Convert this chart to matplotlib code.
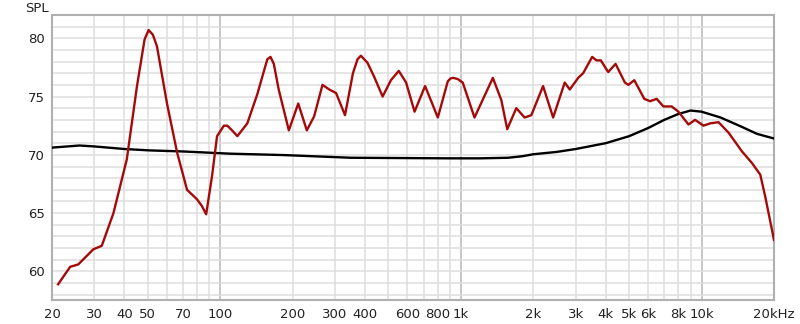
import matplotlib as mpl
import matplotlib.pyplot as plt
import numpy as np

mpl.rcParams['font.family'] = 'DejaVu Sans'
mpl.rcParams['text.color'] = '#222222'

# Frequency response (red)
red_freq = [21.2, 23.8, 25.7, 29.7, 32.2, 36.0, 40.9, 45.1, 48.5, 50.4, 52.5, 54.6,
            60.1, 66.2, 72.8, 80.0, 84.0, 87.4, 92.5, 97.0, 103.6, 107, 112, 117.8, 129.6,
            142.6, 152, 157, 161.8, 167, 175, 192.8, 211, 229, 245.6, 266, 284, 303, 330, 356,
            372, 384, 409, 436, 473, 512, 552, 592, 642, 710, 802, 882, 905, 930, 970, 1018, 1139,
            1358, 1472, 1558, 1699, 1840, 1962, 2195, 2417, 2701, 2834, 3072, 3221,
            3512, 3660, 3815, 4094, 4393, 4803, 4961, 5254, 5783, 6105, 6511, 6941,
            7516, 8018, 8823, 9401, 10186, 10854, 11765, 12949, 14714, 16195, 17538,
            18400, 20000]
red_spl = [58.9, 60.4, 60.6, 61.9, 62.2, 65.0, 69.6, 75.9, 79.9, 80.7, 80.3, 79.3,
           74.4, 70.2, 67.0, 66.2, 65.6, 64.9, 68.2, 71.6, 72.5, 72.5, 72.1, 71.6, 72.7,
           75.2, 77.2, 78.2, 78.4, 77.8, 75.6, 72.1, 74.4, 72.1, 73.3, 76.0, 75.6, 75.3, 73.4, 77.0,
           78.2, 78.5, 77.9, 76.7, 75.0, 76.4, 77.2, 76.2, 73.7, 75.9, 73.2, 76.3, 76.55, 76.6, 76.5,
           76.2, 73.2,
           76.6, 74.7, 72.2, 74.0, 73.2, 73.4, 75.9, 73.2, 76.2, 75.6, 76.6, 77.0,
           78.4, 78.1, 78.1, 77.1, 77.8, 76.2, 76.0, 76.4, 74.8, 74.6, 74.8, 74.15,
           74.15, 73.7, 72.6, 73.0, 72.5, 72.7, 72.8, 71.9, 70.3, 69.3, 68.3,
           66.4, 62.7]

# Target / reference curve (black)
black_freq = [20, 26, 30, 40, 51, 70, 110, 184, 349, 900, 1200, 1570, 1800, 2000, 2500,
              3000, 4000, 5000, 6000, 7000, 8000, 9000, 10000, 12000, 14700, 17000, 20000]
black_spl = [70.62, 70.8, 70.72, 70.5, 70.38, 70.29, 70.1, 69.98, 69.75, 69.7, 69.7,
             69.75, 69.88, 70.05, 70.25, 70.5, 71.0, 71.6, 72.3, 73.0, 73.5, 73.8, 73.7,
             73.2, 72.4, 71.8, 71.4]

x_ticks = [20, 30, 40, 50, 70, 100, 200, 300, 400, 600, 800, 1000, 2000, 3000,
           4000, 5000, 6000, 8000, 10000, 20000]
x_labels = ['20', '30', '40', '50', '70', '100', '200', '300', '400', '600', '800',
            '1k', '2k', '3k', '4k', '5k', '6k', '8k', '10k', '20kHz']
y_ticks = [60, 65, 70, 75, 80]

fig = plt.figure(figsize=(8, 3.24), dpi=100)
ax = fig.add_axes([0.065, 0.074, 0.9025, 0.88])
ax.set_xscale('log')
ax.set_xlim(20, 20000)
ax.set_ylim(57.55, 82.0)

# Grid: light lines every 1-2-...-9 and every dB, darker decade lines
for d in [10, 100, 1000, 10000]:
    for m in range(1, 10):
        f = d * m
        if 20 <= f <= 20000:
            dark = m == 1 and d >= 100
            ax.axvline(f, color='#b8b8b8' if dark else '#dedede', lw=1.1, zorder=0)
for v in range(58, 83):
    ax.axhline(v, color='#dedede', lw=1.1, zorder=0)

ax.plot(black_freq, black_spl, color='black', lw=1.7, zorder=3,
        solid_joinstyle='round')
ax.plot(red_freq, red_spl, color='#a50a0a', lw=1.7, zorder=4,
        solid_joinstyle='round')

ax.set_xticks(x_ticks, x_labels)
ax.xaxis.set_minor_locator(mpl.ticker.NullLocator())
ax.set_yticks(y_ticks)
ax.tick_params(length=0, labelsize=9.5, colors='#222222')
ax.tick_params(axis='x', pad=6)
ax.tick_params(axis='y', pad=5)

for s in ax.spines.values():
    s.set_color('#b0b0b0')
    s.set_linewidth(1.5)

fig.text(37 / 800, 1 - 8 / 324, 'SPL', ha='center', va='center', fontsize=9.5)

plt.savefig('out.png', dpi=100)
